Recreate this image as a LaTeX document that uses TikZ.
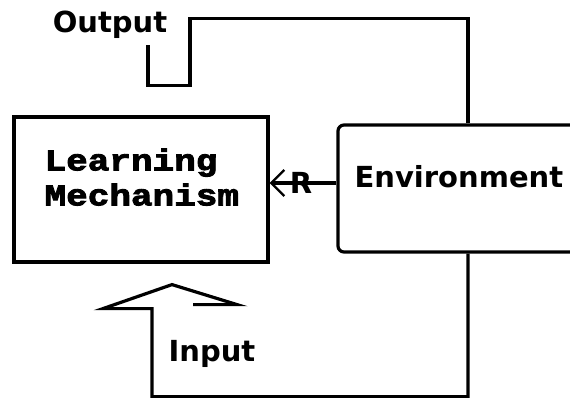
\documentclass[tikz,border=0pt]{standalone}
\usepackage{fontspec}
\usetikzlibrary{arrows.meta}
\newfontfamily\labelfont{DejaVu Sans}
\newfontfamily\mechfont[FakeStretch=1.2,FakeBold=3]{Liberation Mono}
\tikzset{% change default arrow tips
    >={Straight Barb[length=13pt,width=26pt,line width=2.4pt]}
}

\begin{document}
\begin{tikzpicture}[x=1pt,y=-1pt,line width=3.2pt,
		box/.style={draw, inner sep=0pt},
		lbl/.style={font=\labelfont\bfseries\fontsize{29}{29}\selectfont, inner sep=0pt},
		mech/.style={font=\mechfont\bfseries\fontsize{30}{35}\selectfont, align=left, inner sep=0pt}]
	\useasboundingbox (0,0) rectangle (570,398);
	\clip (0,0) rectangle (570,398);

	% boxes
	\node[box, minimum width=254pt, minimum height=145pt] (learn) at (141,189.5) {};
	\node[box, rounded corners=6pt, minimum width=260pt, minimum height=127pt] (env) at (468,188.5) {};

	% texts
	\node[mech, anchor=north west] (learntxt) at (43,147) {Learning\\Mechanism};
	\node[lbl, anchor=base west] (envtxt) at (353,188) {Environment};
	\node[lbl, anchor=base] (outtxt) at (110,33) {Output};
	\node[lbl, anchor=base] (intxt) at (212,361) {Input};

	% reward back into the learner
	\draw[->] ([yshift=5.5pt]env.west) -- ([yshift=5.5pt]env.west -| learn.east)
		node[lbl, pos=.53] (rtxt) {R};

	% output loop
	\draw (env.north) -- ++(0,-105) -| ++(-278,67) -| ++(-42,-40);

	% input loop, ends in the hollow arrow
	\draw (env.south) |- ++(-316,143) -- ++(0,-88) -- ++(-49,0) -- ++(69,-24) -- ++(65,20) -- ++(-44,0);
\end{tikzpicture}
\end{document}
